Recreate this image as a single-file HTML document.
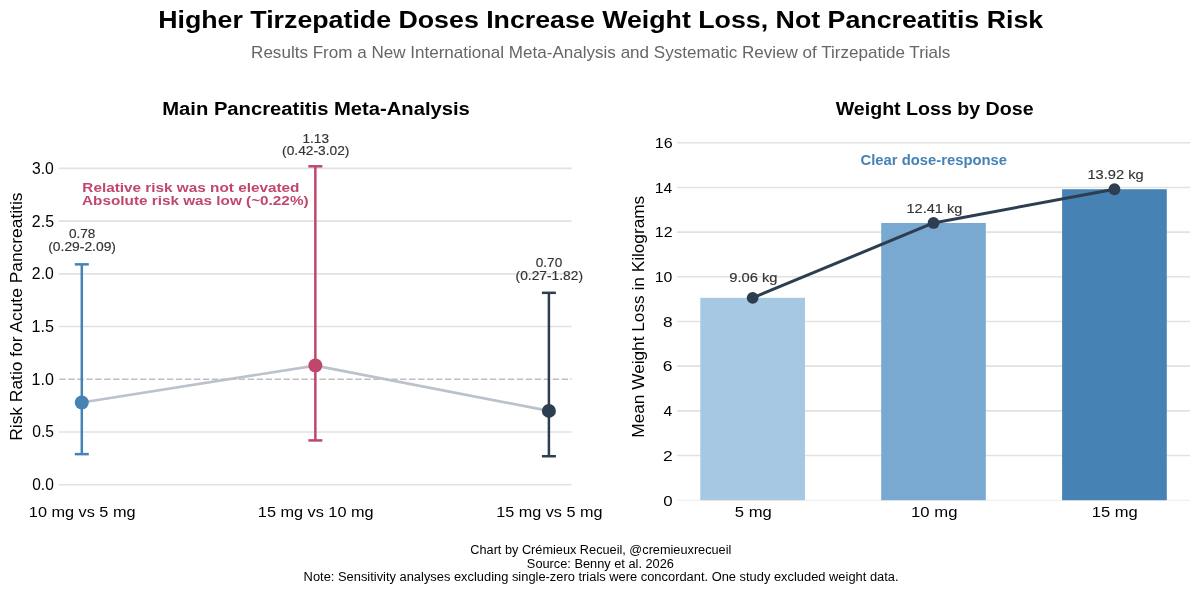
<!DOCTYPE html>
<html><head><meta charset="utf-8"><style>
html,body{margin:0;padding:0;background:#ffffff;}
svg{display:block;will-change:transform;}
text{font-family:"Liberation Sans",sans-serif;}
</style></head><body>
<svg width="1200" height="593" viewBox="0 0 1200 593">
<rect width="1200" height="593" fill="#ffffff"/>
<line x1="58.8" x2="571.6" y1="484.70" y2="484.70" stroke="#e2e2e2" stroke-width="1.6"/>
<line x1="58.8" x2="571.6" y1="431.99" y2="431.99" stroke="#e2e2e2" stroke-width="1.6"/>
<line x1="58.8" x2="571.6" y1="326.55" y2="326.55" stroke="#e2e2e2" stroke-width="1.6"/>
<line x1="58.8" x2="571.6" y1="273.84" y2="273.84" stroke="#e2e2e2" stroke-width="1.6"/>
<line x1="58.8" x2="571.6" y1="221.12" y2="221.12" stroke="#e2e2e2" stroke-width="1.6"/>
<line x1="58.8" x2="571.6" y1="168.41" y2="168.41" stroke="#e2e2e2" stroke-width="1.6"/>
<polyline points="81.80,402.46 315.35,365.56 548.90,410.90" fill="none" stroke="#bbc2cc" stroke-width="2.7" stroke-linejoin="round"/>
<line x1="58.8" x2="571.6" y1="379.27" y2="379.27" stroke="#bfbfbf" stroke-width="1.7" stroke-dasharray="6.45 2.52" stroke-dashoffset="-0.5"/>
<line x1="81.80" x2="81.80" y1="454.13" y2="264.35" stroke="#4682b4" stroke-width="2.5"/>
<line x1="74.80" x2="88.80" y1="454.13" y2="454.13" stroke="#4682b4" stroke-width="2.5"/>
<line x1="74.80" x2="88.80" y1="264.35" y2="264.35" stroke="#4682b4" stroke-width="2.5"/>
<circle cx="81.80" cy="402.46" r="7" fill="#4682b4"/>
<line x1="315.35" x2="315.35" y1="440.42" y2="166.30" stroke="#c0476b" stroke-width="2.5"/>
<line x1="308.35" x2="322.35" y1="440.42" y2="440.42" stroke="#c0476b" stroke-width="2.5"/>
<line x1="308.35" x2="322.35" y1="166.30" y2="166.30" stroke="#c0476b" stroke-width="2.5"/>
<circle cx="315.35" cy="365.56" r="7" fill="#c0476b"/>
<line x1="548.90" x2="548.90" y1="456.23" y2="292.82" stroke="#2c3e50" stroke-width="2.5"/>
<line x1="541.90" x2="555.90" y1="456.23" y2="456.23" stroke="#2c3e50" stroke-width="2.5"/>
<line x1="541.90" x2="555.90" y1="292.82" y2="292.82" stroke="#2c3e50" stroke-width="2.5"/>
<circle cx="548.90" cy="410.90" r="7" fill="#2c3e50"/>
<line x1="677" x2="1190.1" y1="500.40" y2="500.40" stroke="#efefef" stroke-width="1.3"/>
<line x1="677" x2="1190.1" y1="455.52" y2="455.52" stroke="#e2e2e2" stroke-width="1.6"/>
<line x1="677" x2="1190.1" y1="410.84" y2="410.84" stroke="#e2e2e2" stroke-width="1.6"/>
<line x1="677" x2="1190.1" y1="366.16" y2="366.16" stroke="#e2e2e2" stroke-width="1.6"/>
<line x1="677" x2="1190.1" y1="321.48" y2="321.48" stroke="#e2e2e2" stroke-width="1.6"/>
<line x1="677" x2="1190.1" y1="276.80" y2="276.80" stroke="#e2e2e2" stroke-width="1.6"/>
<line x1="677" x2="1190.1" y1="232.12" y2="232.12" stroke="#e2e2e2" stroke-width="1.6"/>
<line x1="677" x2="1190.1" y1="187.44" y2="187.44" stroke="#e2e2e2" stroke-width="1.6"/>
<line x1="677" x2="1190.1" y1="142.76" y2="142.76" stroke="#e2e2e2" stroke-width="1.6"/>
<rect x="700.30" y="297.80" width="104.70" height="202.40" fill="#a6c8e3"/>
<rect x="881.20" y="222.96" width="104.60" height="277.24" fill="#79a8d0"/>
<rect x="1062.10" y="189.23" width="104.70" height="310.97" fill="#4682b4"/>
<polyline points="752.65,297.80 933.50,222.96 1114.45,189.23" fill="none" stroke="#2c3e50" stroke-width="3" stroke-linejoin="round"/>
<circle cx="752.65" cy="297.80" r="5.9" fill="#2c3e50"/>
<circle cx="933.50" cy="222.96" r="5.9" fill="#2c3e50"/>
<circle cx="1114.45" cy="189.23" r="5.9" fill="#2c3e50"/>
<text x="158.16" y="27.85" font-size="24.49" font-weight="bold" fill="#000000" textLength="885.03" lengthAdjust="spacingAndGlyphs">Higher Tirzepatide Doses Increase Weight Loss, Not Pancreatitis Risk</text>
<text x="251.08" y="57.50" font-size="16.57" font-weight="normal" fill="#666666" textLength="699.33" lengthAdjust="spacingAndGlyphs">Results From a New International Meta-Analysis and Systematic Review of Tirzepatide Trials</text>
<text x="162.27" y="114.50" font-size="18.46" font-weight="bold" fill="#000000" textLength="307.54" lengthAdjust="spacingAndGlyphs">Main Pancreatitis Meta-Analysis</text>
<text x="835.67" y="114.90" font-size="18.46" font-weight="bold" fill="#000000" textLength="197.90" lengthAdjust="spacingAndGlyphs">Weight Loss by Dose</text>
<text x="28.88" y="516.80" font-size="15.26" font-weight="normal" fill="#000000" textLength="106.61" lengthAdjust="spacingAndGlyphs">10 mg vs 5 mg</text>
<text x="257.86" y="516.80" font-size="15.26" font-weight="normal" fill="#000000" textLength="115.67" lengthAdjust="spacingAndGlyphs">15 mg vs 10 mg</text>
<text x="496.30" y="516.60" font-size="15.26" font-weight="normal" fill="#000000" textLength="106.14" lengthAdjust="spacingAndGlyphs">15 mg vs 5 mg</text>
<text x="68.97" y="238.10" font-size="12.65" font-weight="normal" fill="#333333" stroke="#333333" stroke-width="0.15" textLength="26.44" lengthAdjust="spacingAndGlyphs">0.78</text>
<text x="48.23" y="250.80" font-size="12.65" font-weight="normal" fill="#333333" stroke="#333333" stroke-width="0.15" textLength="67.77" lengthAdjust="spacingAndGlyphs">(0.29-2.09)</text>
<text x="302.46" y="142.50" font-size="12.65" font-weight="normal" fill="#333333" stroke="#333333" stroke-width="0.15" textLength="26.51" lengthAdjust="spacingAndGlyphs">1.13</text>
<text x="282.08" y="155.40" font-size="12.65" font-weight="normal" fill="#333333" stroke="#333333" stroke-width="0.15" textLength="67.33" lengthAdjust="spacingAndGlyphs">(0.42-3.02)</text>
<text x="535.81" y="266.70" font-size="12.65" font-weight="normal" fill="#333333" stroke="#333333" stroke-width="0.15" textLength="26.38" lengthAdjust="spacingAndGlyphs">0.70</text>
<text x="515.63" y="279.70" font-size="12.65" font-weight="normal" fill="#333333" stroke="#333333" stroke-width="0.15" textLength="67.38" lengthAdjust="spacingAndGlyphs">(0.27-1.82)</text>
<text x="82.34" y="191.50" font-size="13.66" font-weight="bold" fill="#c0476b" textLength="217.15" lengthAdjust="spacingAndGlyphs">Relative risk was not elevated</text>
<text x="82.08" y="205.00" font-size="13.66" font-weight="bold" fill="#c0476b" textLength="226.50" lengthAdjust="spacingAndGlyphs">Absolute risk was low (~0.22%)</text>
<text x="734.89" y="517.00" font-size="15.26" font-weight="normal" fill="#000000" textLength="36.96" lengthAdjust="spacingAndGlyphs">5 mg</text>
<text x="911.12" y="517.00" font-size="15.26" font-weight="normal" fill="#000000" textLength="46.31" lengthAdjust="spacingAndGlyphs">10 mg</text>
<text x="1091.81" y="517.00" font-size="15.26" font-weight="normal" fill="#000000" textLength="45.89" lengthAdjust="spacingAndGlyphs">15 mg</text>
<text x="729.20" y="281.90" font-size="13.23" font-weight="normal" fill="#333333" stroke="#333333" stroke-width="0.15" textLength="48.36" lengthAdjust="spacingAndGlyphs">9.06 kg</text>
<text x="906.47" y="213.20" font-size="13.23" font-weight="normal" fill="#333333" stroke="#333333" stroke-width="0.15" textLength="55.79" lengthAdjust="spacingAndGlyphs">12.41 kg</text>
<text x="1087.42" y="179.30" font-size="13.23" font-weight="normal" fill="#333333" stroke="#333333" stroke-width="0.15" textLength="56.28" lengthAdjust="spacingAndGlyphs">13.92 kg</text>
<text x="860.56" y="164.80" font-size="13.95" font-weight="bold" fill="#4682b4" textLength="146.52" lengthAdjust="spacingAndGlyphs">Clear dose-response</text>
<text x="470.30" y="554.40" font-size="12.50" font-weight="normal" fill="#000000" textLength="261.06" lengthAdjust="spacingAndGlyphs">Chart by Crémieux Recueil, @cremieuxrecueil</text>
<text x="526.86" y="567.70" font-size="12.50" font-weight="normal" fill="#000000" textLength="147.10" lengthAdjust="spacingAndGlyphs">Source: Benny et al. 2026</text>
<text x="303.62" y="580.50" font-size="12.50" font-weight="normal" fill="#000000" textLength="594.92" lengthAdjust="spacingAndGlyphs">Note: Sensitivity analyses excluding single-zero trials were concordant. One study excluded weight data.</text>
<text transform="translate(22.00 440.78) rotate(-90)" x="0" y="0" font-size="17.15" font-weight="normal" fill="#000000" textLength="248.25" lengthAdjust="spacingAndGlyphs">Risk Ratio for Acute Pancreatitis</text>
<text transform="translate(644.30 437.70) rotate(-90)" x="0" y="0" font-size="17.15" font-weight="normal" fill="#000000" textLength="241.93" lengthAdjust="spacingAndGlyphs">Mean Weight Loss in Kilograms</text>
<text x="32.22" y="490.10" font-size="15.70" font-weight="normal" fill="#000000" textLength="21.61" lengthAdjust="spacingAndGlyphs">0.0</text>
<text x="32.22" y="437.38" font-size="15.70" font-weight="normal" fill="#000000" textLength="21.74" lengthAdjust="spacingAndGlyphs">0.5</text>
<text x="31.59" y="384.67" font-size="15.70" font-weight="normal" fill="#000000" textLength="22.34" lengthAdjust="spacingAndGlyphs">1.0</text>
<text x="31.57" y="331.95" font-size="15.70" font-weight="normal" fill="#000000" textLength="22.50" lengthAdjust="spacingAndGlyphs">1.5</text>
<text x="31.89" y="279.24" font-size="15.70" font-weight="normal" fill="#000000" textLength="21.90" lengthAdjust="spacingAndGlyphs">2.0</text>
<text x="31.89" y="226.52" font-size="15.70" font-weight="normal" fill="#000000" textLength="22.18" lengthAdjust="spacingAndGlyphs">2.5</text>
<text x="31.90" y="173.81" font-size="15.70" font-weight="normal" fill="#000000" textLength="21.89" lengthAdjust="spacingAndGlyphs">3.0</text>
<text x="663.25" y="505.50" font-size="15.41" font-weight="normal" fill="#000000" textLength="9.38" lengthAdjust="spacingAndGlyphs">0</text>
<text x="662.98" y="460.82" font-size="15.41" font-weight="normal" fill="#000000" textLength="9.73" lengthAdjust="spacingAndGlyphs">2</text>
<text x="663.61" y="416.14" font-size="15.41" font-weight="normal" fill="#000000" textLength="8.82" lengthAdjust="spacingAndGlyphs">4</text>
<text x="662.87" y="371.46" font-size="15.41" font-weight="normal" fill="#000000" textLength="9.73" lengthAdjust="spacingAndGlyphs">6</text>
<text x="663.13" y="326.78" font-size="15.41" font-weight="normal" fill="#000000" textLength="9.62" lengthAdjust="spacingAndGlyphs">8</text>
<text x="654.80" y="282.10" font-size="15.41" font-weight="normal" fill="#000000" textLength="17.63" lengthAdjust="spacingAndGlyphs">10</text>
<text x="654.79" y="237.42" font-size="15.41" font-weight="normal" fill="#000000" textLength="17.74" lengthAdjust="spacingAndGlyphs">12</text>
<text x="654.83" y="192.74" font-size="15.41" font-weight="normal" fill="#000000" textLength="17.54" lengthAdjust="spacingAndGlyphs">14</text>
<text x="654.80" y="148.06" font-size="15.41" font-weight="normal" fill="#000000" textLength="17.87" lengthAdjust="spacingAndGlyphs">16</text>
</svg>
</body></html>
